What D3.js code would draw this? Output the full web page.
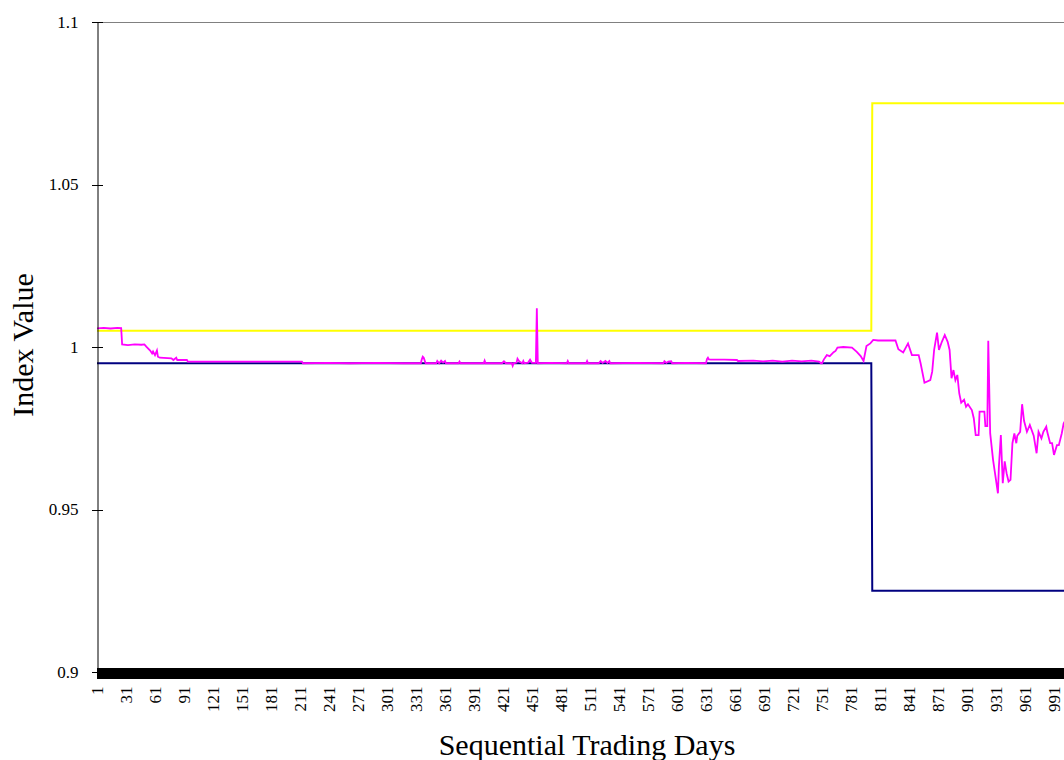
<!DOCTYPE html>
<html><head><meta charset="utf-8">
<script src="https://cdn.jsdelivr.net/npm/d3@7"></script>
<style>
html,body{margin:0;padding:0;background:#fff;overflow:hidden;}
svg{display:block;font-family:"Liberation Serif","Times New Roman",serif;}
</style></head>
<body>
<svg id="chart" width="1064" height="760"></svg>
<script>
// ---- data ----
const dayCount = 1010;
const days = d3.range(1, dayCount + 1);
const xTickLabels = ["1","31","61","91","121","151","181","211","241","271","301","331","361","391","421","451","481","511","541","571","601","631","661","691","721","751","781","811","841","871","901","931","961","991"];
const yTicks = [0.9, 0.95, 1, 1.05, 1.1];
const yTickLabels = ["0.9","0.95","1","1.05","1.1"];

const upperDays = [1, 802, 803, dayCount];
const upperValues = [1.005, 1.005, 1.075, 1.075];
const lowerDays = [1, 802, 803, dayCount];
const lowerValues = [0.995, 0.995, 0.925, 0.925];

const indexDays = [1,8,15,22,26,27,33,40,47,50,52,56,58,59,61,63,64,66,78,80,83,84,94,95,150,213,214,240,262,290,318,336,337,338,339,340,341,352,353,355,357,359,361,362,375,376,377,401,402,403,420,422,424,430,431,432,435,436,438,441,442,443,447,449,451,455,456,457,470,487,488,489,507,508,509,520,522,524,527,529,531,532,560,587,588,590,592,595,596,610,631,632,633,634,636,650,663,664,680,690,700,710,720,730,740,748,750,751,753,756,759,763,765,767,773,782,787,791,794,797,801,804,809,827,
830,835,840,844,851,853,857,863,865,867,870,872,875,878,881,883,885,887,889,891,893,895,898,900,902,906,908,910,913,914,919,920,922,923,925,928,930,933,934,936,938,940,942,944,946,948,950,952,953,956,958,960,963,966,970,973,975,978,980,983,984,987,989,991,994,996,999,1001,1004];
const indexValues = [1.0057,1.0059,1.0057,1.0059,1.0058,1.0008,1.0006,1.0008,1.0007,1.0008,1.0001,0.9989,0.9980,0.9986,0.9975,0.9989,0.9970,0.9967,0.9965,0.9960,0.9967,0.9960,0.9960,0.9955,0.9955,0.9955,0.9950,0.9951,0.9950,0.9951,0.9950,0.9950,0.9962,0.9970,0.9967,0.9958,0.9950,0.9950,0.9957,0.9950,0.9958,0.9952,0.9957,0.9950,0.9950,0.9955,0.9950,0.9950,0.9958,0.9950,0.9950,0.9956,0.9950,0.9950,0.9942,0.9950,0.9952,0.9964,0.9955,0.9950,0.9957,0.9950,0.9952,0.9961,0.9951,0.9951,1.0119,0.9950,0.9951,0.9950,0.9957,0.9950,0.9950,0.9957,0.9950,0.9950,0.9957,0.9951,0.9957,0.9951,0.9957,0.9950,0.9951,0.9950,0.9956,0.9951,0.9955,0.9956,0.9950,0.9951,0.9950,0.9963,0.9967,0.9962,0.9961,0.9961,0.9960,0.9957,0.9958,0.9956,0.9958,0.9955,0.9958,0.9956,0.9958,0.9955,0.9950,0.9950,0.9962,0.9975,0.9972,0.9984,0.9988,0.9998,1.0000,0.9998,0.9985,0.9972,0.9957,1.0003,1.0011,1.0022,1.0020,1.0020,
0.9993,0.9983,1.0011,0.9975,0.9975,0.9950,0.9890,0.9898,0.9924,0.9991,1.0044,0.9991,1.0016,1.0037,1.0016,0.9991,0.9904,0.9929,0.9898,0.9914,0.9857,0.9829,0.9838,0.9816,0.9824,0.9806,0.9781,0.9729,0.9729,0.9801,0.9801,0.9757,0.9757,1.0019,0.9734,0.9652,0.9611,0.9550,0.9632,0.9729,0.9581,0.9648,0.9611,0.9586,0.9591,0.9704,0.9734,0.9704,0.9727,0.9739,0.9824,0.9773,0.9739,0.9760,0.9727,0.9673,0.9739,0.9719,0.9739,0.9755,0.9739,0.9704,0.9704,0.9668,0.9698,0.9698,0.9734,0.9765,0.9780];

// ---- layout ----
const plotLeft = 97, plotTop = 22, plotBottom = 672;
const step = (1054 - 97) / 990;
const svg = d3.select("#chart");

const x = d3.scalePoint().domain(days).range([plotLeft, plotLeft + (dayCount - 1) * step]);
const y = d3.scaleLinear().domain([0.9, 1.1]).range([plotBottom, plotTop]);

// top border of plot area
svg.append("line").attr("x1", plotLeft).attr("x2", 1064).attr("y1", plotTop + 0.5).attr("y2", plotTop + 0.5)
  .attr("stroke", "#808080").attr("stroke-width", 1);

// series
const line = d3.line().x(d => x(d[0])).y(d => y(d[1]));
function draw(ds, vs, color, w) {
  svg.append("path").datum(ds.map((d, i) => [d, vs[i]]))
    .attr("d", line).attr("fill", "none").attr("stroke", color)
    .attr("stroke-width", w).attr("stroke-linejoin", "miter");
}
draw(upperDays, upperValues, "#FFFF00", 2);
draw(lowerDays, lowerValues, "#000080", 2);
draw(indexDays, indexValues, "#FF00FF", 1.8);

// y axis
const yAxis = svg.append("g").attr("transform", `translate(${plotLeft + 0.5},0)`)
  .call(d3.axisLeft(y).tickValues(yTicks).tickFormat((d, i) => yTickLabels[i]).tickSize(6).tickPadding(13).tickSizeOuter(0));
yAxis.select(".domain").attr("stroke", "#000");
yAxis.selectAll(".tick line").attr("x1", 5).attr("x2", -6).attr("stroke", "#000").attr("shape-rendering", "crispEdges");
yAxis.selectAll(".tick text").attr("font-size", "17px").attr("font-family", "Liberation Serif, serif").attr("fill", "#000");

// x axis
const labelSet = new Set(xTickLabels);
const xAxis = svg.append("g").attr("transform", `translate(0,${plotBottom + 0.5})`)
  .call(d3.axisBottom(x).tickValues(days).tickFormat(d => labelSet.has(String(d)) ? String(d) : "").tickSize(6).tickSizeOuter(0));
xAxis.select(".domain").attr("stroke", "#000");
xAxis.selectAll(".tick line").attr("y1", -5).attr("y2", 6).attr("stroke", "#000").attr("shape-rendering", "crispEdges");
xAxis.selectAll(".tick text")
  .attr("transform", "rotate(-90)")
  .attr("x", -14).attr("y", 0).attr("dy", "0.35em")
  .attr("text-anchor", "end")
  .attr("font-size", "17px").attr("font-family", "Liberation Serif, serif").attr("fill", "#000");

// axis titles
svg.append("text").attr("x", 587).attr("y", 755).attr("text-anchor", "middle")
  .attr("font-size", "30px").text("Sequential Trading Days");
svg.append("text").attr("transform", "translate(33,345) rotate(-90)").attr("text-anchor", "middle")
  .attr("font-size", "30px").text("Index Value");
</script>
</body></html>
